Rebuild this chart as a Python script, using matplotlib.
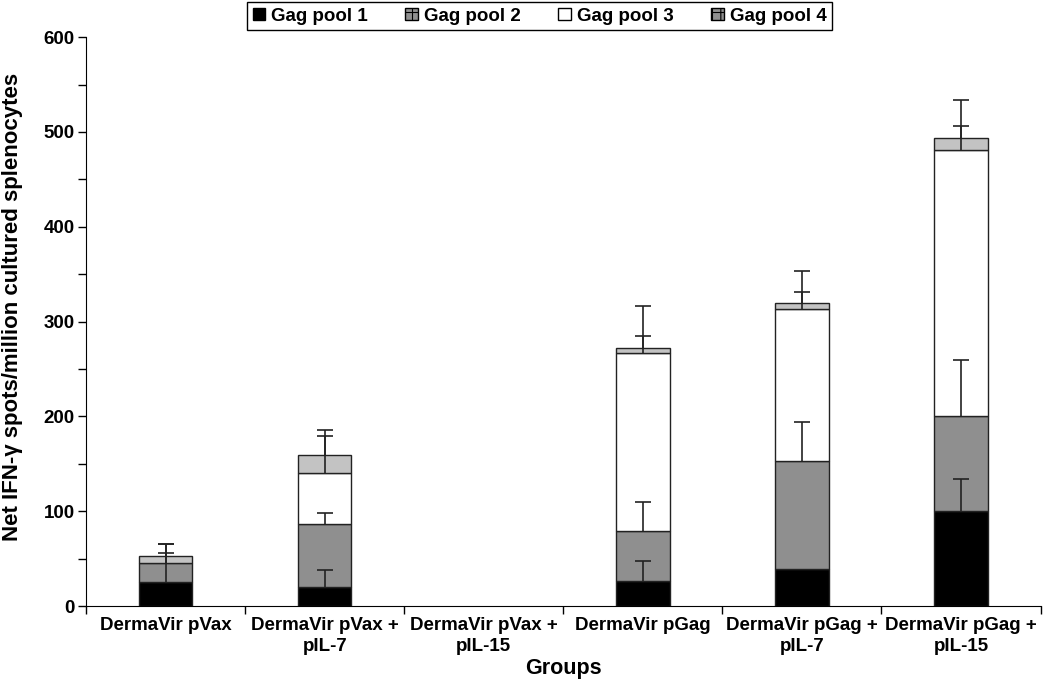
import matplotlib
matplotlib.use("Agg")
import matplotlib.pyplot as plt
import numpy as np
from matplotlib.patches import Rectangle
from matplotlib.ticker import MultipleLocator

plt.rcParams['font.family'] = ['Liberation Sans', 'DejaVu Sans']
plt.rcParams['font.weight'] = 'bold'
plt.rcParams['hatch.linewidth'] = 0.8

groups = ['DermaVir pVax', 'DermaVir pVax +\npIL-7', 'DermaVir pVax +\npIL-15',
          'DermaVir pGag', 'DermaVir pGag +\npIL-7', 'DermaVir pGag +\npIL-15']
series = ['Gag pool 1', 'Gag pool 2', 'Gag pool 3', 'Gag pool 4']

pool1 = [25, 20, 0, 26, 39, 100]
pool2 = [21, 67, 0, 53, 114, 100]
pool3 = [0, 53, 0, 188, 160, 281]
pool4 = [7, 19, 0, 5, 7, 13]

# upper error bars only
err1 = [31, 18, 0, 22, 0, 34]
err2 = [19, 11, 0, 31, 41, 60]
err3 = [0, 39, 0, 18, 18, 25]
err4 = [13, 27, 0, 44, 33, 40]

colors = ['#000000', '#8f8f8f', '#ffffff', '#c3c3c3']

fig = plt.figure(figsize=(10.5, 6.88), dpi=100)
ax = fig.add_axes([0.082, 0.119, 0.909, 0.827])

x = np.arange(len(groups))
bottom = np.zeros(len(groups))
tops = []
for vals, c in zip([pool1, pool2, pool3, pool4], colors):
    vals = np.array(vals, dtype=float)
    m = vals > 0
    ax.bar(x[m], vals[m], 0.335, bottom=bottom[m], color=c, edgecolor='#222222',
           linewidth=1.0, zorder=2)
    bottom = bottom + vals
    tops.append(bottom.copy())

for top, err in zip(tops, [err1, err2, err3, err4]):
    err = np.array(err, dtype=float)
    m = err > 0
    ax.errorbar(x[m], top[m], yerr=[np.zeros(m.sum()), err[m]], fmt='none',
                ecolor='#222222', elinewidth=1.2, capsize=0, zorder=3)
    ax.plot(x[m], top[m] + err[m], ls='none', marker='_', ms=11, mew=1.2,
            color='#222222', zorder=3)

ax.set_xlim(-0.5, len(groups) - 0.5)
ax.set_ylim(0, 600)
ax.yaxis.set_major_locator(MultipleLocator(100))
ax.yaxis.set_minor_locator(MultipleLocator(50))
ax.set_xticks(np.arange(-0.5, len(groups), 1.0))
ax.set_xticklabels([])
ax.set_xticks(x, minor=True)
ax.set_xticklabels(groups, minor=True, fontsize=13.5, fontweight='bold', linespacing=1.3)
ax.tick_params(axis='x', which='major', direction='out', length=6, width=1)
ax.tick_params(axis='x', which='minor', length=0, pad=8)
ax.tick_params(axis='y', which='major', direction='out', length=6, width=1, labelsize=13.5, pad=2)
ax.tick_params(axis='y', which='minor', direction='out', length=6, width=1)
for lab in ax.get_yticklabels():
    lab.set_fontweight('bold')

ax.spines['top'].set_visible(False)
ax.spines['right'].set_visible(False)
ax.set_ylabel('Net IFN-γ spots/million cultured splenocytes', fontsize=16, fontweight='bold')
ax.yaxis.set_label_coords(-0.066, 0.525)
ax.set_xlabel('Groups', fontsize=15.5, fontweight='bold', labelpad=2)

handles = [
    Rectangle((0, 0), 1, 1, fc='#000000', ec='black'),
    Rectangle((0, 0), 1, 1, fc='#8f8f8f', ec='black', hatch='++'),
    Rectangle((0, 0), 1, 1, fc='#ffffff', ec='black'),
    Rectangle((0, 0), 1, 1, fc='#8f8f8f', ec='black', hatch='++'),
]
leg = fig.legend(handles, series, loc='upper left', bbox_to_anchor=(247 / 1050, 0.997), ncol=4,
                 frameon=True, fancybox=False, edgecolor='black', framealpha=1,
                 prop={'weight': 'bold', 'size': 13.5}, handlelength=0.67, handleheight=0.67,
                 handletextpad=0.32, columnspacing=2.0, borderpad=0.3, borderaxespad=0)
leg.get_frame().set_linewidth(1.0)

fig.savefig('out.png', dpi=100)
